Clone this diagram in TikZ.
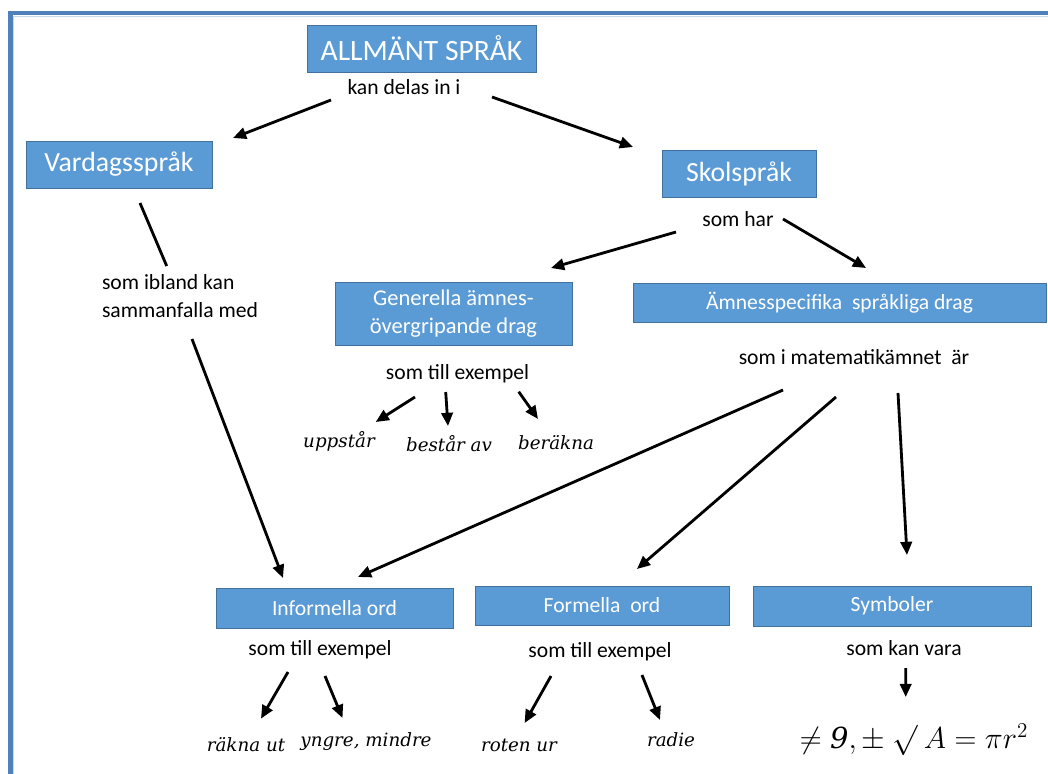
\documentclass[tikz,border=0pt]{standalone}
\usepackage{fontspec}
\usepackage{amsmath}
\setmainfont{Carlito}
\newfontfamily\kursivfont{DejaVu Serif}
\usetikzlibrary{calc, arrows.meta}
\definecolor{boxblue}{HTML}{5B9BD5}
\definecolor{boxline}{HTML}{41719C}
\definecolor{ramblue}{HTML}{4F81BD}
\definecolor{ramljus}{HTML}{C6D9F1}

\begin{document}
\begin{tikzpicture}[
      x=0.02cm, y=-0.02cm,
      box/.style={fill=boxblue, draw=boxline, line width=0.5pt, text=white,
        inner sep=0pt, font=\fontsize{12.3}{15}\selectfont},
      stor/.style={box, font=\fontsize{15.8}{18}\selectfont},
      tekst/.style={inner sep=1pt, font=\fontsize{12.3}{16}\selectfont},
      exempel/.style={inner sep=1pt, font=\kursivfont\itshape\fontsize{10.4}{13}\selectfont},
      pil/.style={line width=1.6pt, -{Triangle[length=7.5pt,width=6.5pt]}}
    ]
      \useasboundingbox (0,0) rectangle (1048,774);
      \draw[ramblue, line width=2.3pt] (1060,13) -| (10.5,790);
      \draw[ramljus, line width=0.6pt] (1060,16.2) -| (13.7,790);

      \node[stor, minimum width=4.58cm, minimum height=0.94cm, font=\fontsize{16.8}{18}\selectfont] (allm) at (421.5,48.5) {ALLMÄNT SPRÅK};
      \node[tekst] (kan) at (404,87) {kan delas in i};
      \node[stor, minimum width=3.72cm, minimum height=0.94cm] (vardag) at (119,164.5) {Vardagsspråk};
      \node[stor, minimum width=3.08cm, minimum height=0.94cm] (skol) at (739,173.5) {Skolspråk};
      \node[tekst] (somhar) at (738,219) {som har};
      \node[box, align=center, minimum width=4.74cm, minimum height=1.26cm, font=\fontsize{12.8}{16}\selectfont] (gen) at (453.5,313.5)
          {Generella ämnes-\\övergripande drag};
      \node[box, minimum width=8.26cm, minimum height=0.78cm] (amnes) at (839.5,302.5) {Ämnesspecifika\ \ språkliga drag};
      \node[tekst] (matte) at (854,357) {som i matematikämnet\ \ är};
      \node[tekst] (ex1) at (457.5,374) {som till exempel};
      \node[exempel] (upp) at (339,441) {uppstår};
      \node[exempel] (best) at (449,444) {består av};
      \node[exempel] (berak) at (556,443) {beräkna};
      \node[tekst, align=left] (ibland) at (180,296) {som ibland kan\\sammanfalla med};
      \node[box, minimum width=4.74cm, minimum height=0.8cm] (inf) at (334.5,608) {Informella ord};
      \node[box, minimum width=5.08cm, minimum height=0.78cm] (form) at (602,605.5) {Formella\ \ ord};
      \node[box, minimum width=5.56cm, minimum height=0.8cm] (symb) at (892,606) {Symboler};
      \node[tekst] (ex2) at (320,650) {som till exempel};
      \node[tekst] (ex3) at (600,652) {som till exempel};
      \node[tekst] (kanvara) at (904,648) {som kan vara};
      \node[exempel] (rakna) at (246,745) {räkna ut};
      \node[exempel] (yngre) at (366,742) {yngre, mindre};
      \node[exempel] (roten) at (519,745) {roten ur};
      \node[exempel] (radie) at (671,740) {radie};
      \node[inner sep=1pt, font=\fontsize{16.5}{18}\selectfont] (symb1) at (914,740)
          {$\neq \text{\kursivfont\itshape 9}, \pm\ \surd\ A = \pi r^{2}$};

      \draw[pil] ($(kan)+(-73,13)$) -- ($(vardag)+(114,-26.5)$);
      \draw[pil] ($(kan)+(88,10)$) -- ($(skol)+(-106,-26.5)$);
      \draw[pil] ($(somhar)+(-62,13)$) -- ($(gen)+(97.5,-45.5)$);
      \draw[pil] ($(somhar)+(45,0)$) -- ($(amnes)+(26.5,-34.5)$);
      \draw[line width=1.6pt] ($(vardag)+(21,38.5)$) -- ($(ibland)+(-13.3,-30)$);
      \draw[pil] ($(ibland)+(12,43)$) -- ($(inf)+(-51.5,-30)$);
      \draw[pil] ($(matte)+(-71,33)$) -- ($(inf)+(23.5,-31)$);
      \draw[pil] ($(matte)+(-18,40)$) -- ($(form)+(35,-36.5)$);
      \draw[pil] ($(matte)+(44,36)$) -- ($(symb)+(15,-51)$);
      \draw[pil] ($(ex1)+(-42.5,23)$) -- ($(upp)+(36.7,-19)$);
      \draw[pil] ($(ex1)+(-11.8,18)$) -- ($(best)+(-1,-18)$);
      \draw[pil] ($(ex1)+(61.2,17.7)$) -- ($(berak)+(-18,-24)$);
      \draw[pil] ($(ex2)+(-32,22)$) -- ($(rakna)+(15,-26.4)$);
      \draw[pil] ($(ex2)+(5,26)$) -- ($(yngre)+(-23.5,-24)$);
      \draw[pil] ($(ex3)+(-49,24)$) -- ($(roten)+(5.6,-22)$);
      \draw[pil] ($(ex3)+(42,23)$) -- ($(radie)+(-11,-20)$);
      \draw[pil] ($(kanvara)+(1.7,20)$) -- ($(symb1)+(-8.3,-43)$);
    \end{tikzpicture}
\end{document}
